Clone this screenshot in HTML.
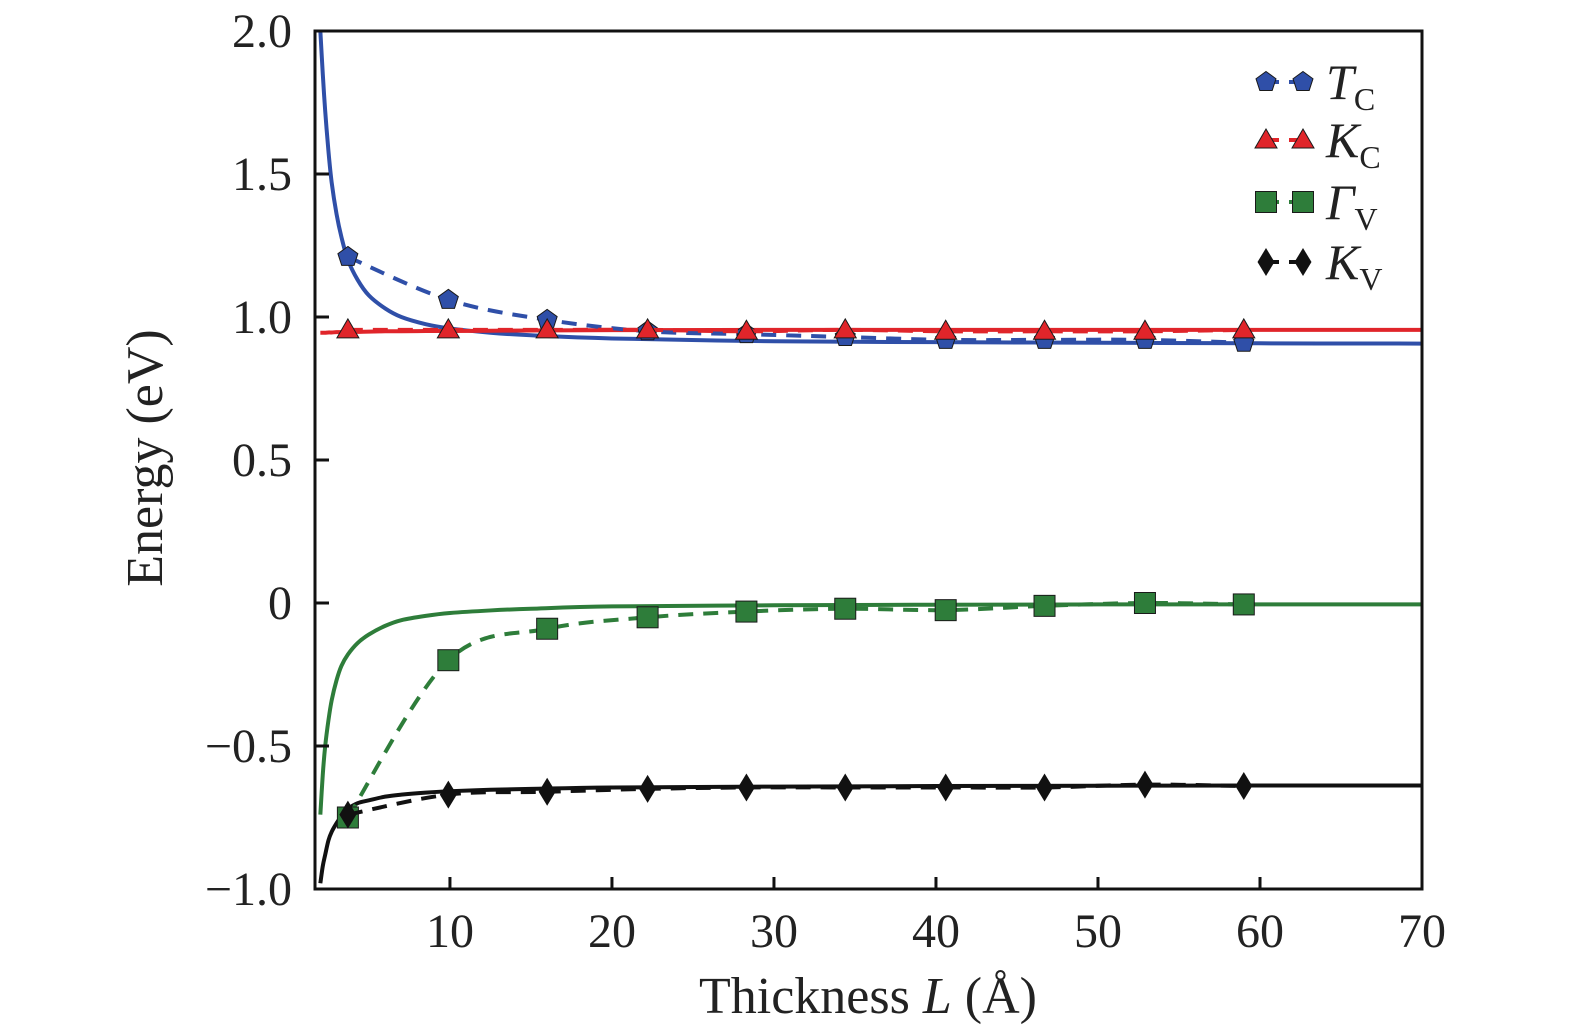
<!DOCTYPE html>
<html><head><meta charset="utf-8"><style>
html,body{margin:0;padding:0;background:#fff;}
svg{display:block;font-family:"Liberation Serif",serif;}
</style></head><body>
<svg id="chart" width="1575" height="1033" viewBox="0 0 1575 1033" xmlns="http://www.w3.org/2000/svg">
<g id="curves"></g>
<g id="series"></g>
<g id="axes"></g>
<g id="legend"></g>
</svg>
<script>
const xTicks=[10,20,30,40,50,60,70];
const yTicks=[-1.0,-0.5,0,0.5,1.0,1.5,2.0];
const yTickLabels=["\u22121.0","\u22120.5","0","0.5","1.0","1.5","2.0"];
const thickness=[3.7,9.9,16.0,22.2,28.3,34.4,40.6,46.7,52.9,59.0];
const tcValues=[1.21,1.06,0.99,0.95,0.94,0.93,0.92,0.92,0.92,0.91];
const kcValues=[0.955,0.955,0.955,0.955,0.95,0.955,0.95,0.95,0.95,0.955];
const gvValues=[-0.75,-0.2,-0.09,-0.05,-0.03,-0.02,-0.025,-0.01,0.0,-0.005];
const kvValues=[-0.74,-0.67,-0.66,-0.65,-0.645,-0.645,-0.645,-0.645,-0.635,-0.64];
const fitX=[2,2.15,2.3,2.5,2.7,3.0,3.3,3.7,4.3,5,6,7,8.5,10,12.5,15,20,30,40,50,60,70];
const tcFit=[2.0,1.85,1.72,1.58,1.47,1.36,1.28,1.2,1.13,1.075,1.03,1.0,0.975,0.96,0.945,0.936,0.925,0.915,0.912,0.91,0.908,0.907];
const kcFit=[0.945,0.945,0.945,0.946,0.946,0.947,0.947,0.948,0.948,0.949,0.95,0.95,0.951,0.951,0.952,0.953,0.954,0.955,0.955,0.955,0.955,0.955];
const gvFit=[-0.74,-0.6,-0.5,-0.41,-0.34,-0.27,-0.22,-0.18,-0.14,-0.11,-0.08,-0.06,-0.045,-0.035,-0.026,-0.02,-0.012,-0.008,-0.006,-0.005,-0.005,-0.005];
const kvFit=[-0.98,-0.92,-0.88,-0.83,-0.8,-0.77,-0.745,-0.72,-0.7,-0.69,-0.677,-0.67,-0.663,-0.658,-0.653,-0.65,-0.645,-0.642,-0.64,-0.639,-0.638,-0.638];

const L=315,R=1422,T=31,B=889,XMIN=1.67,XMAX=70,YMIN=-1,YMAX=2;
const sx=v=>L+(v-XMIN)/(XMAX-XMIN)*(R-L);
const sy=v=>B-(v-YMIN)/(YMAX-YMIN)*(B-T);
const NS="http://www.w3.org/2000/svg";
function mk(tag,attrs,parent){const e=document.createElementNS(NS,tag);for(const k in attrs)e.setAttribute(k,attrs[k]);parent.appendChild(e);return e;}
function smooth(xs,ys){
  const p=xs.map((x,i)=>[sx(x),sy(ys[i])]);let d="M"+p[0][0]+","+p[0][1];
  for(let i=0;i<p.length-1;i++){const p0=p[i-1]||p[i],p1=p[i],p2=p[i+1],p3=p[i+2]||p2;
    const c1=[p1[0]+(p2[0]-p0[0])/6,p1[1]+(p2[1]-p0[1])/6],c2=[p2[0]-(p3[0]-p1[0])/6,p2[1]-(p3[1]-p1[1])/6];
    d+=" C"+c1[0]+","+c1[1]+" "+c2[0]+","+c2[1]+" "+p2[0]+","+p2[1];}
  return d;}
const curves=document.getElementById('curves'),series=document.getElementById('series'),axes=document.getElementById('axes'),legend=document.getElementById('legend');
const defs=[
 {name:'tc',fit:tcFit,vals:tcValues,color:'#2f4fa8',marker:'pent'},
 {name:'kc',fit:kcFit,vals:kcValues,color:'#e0252a',marker:'tri'},
 {name:'gv',fit:gvFit,vals:gvValues,color:'#2e7d3a',marker:'sq'},
 {name:'kv',fit:kvFit,vals:kvValues,color:'#111111',marker:'dia'}];
function marker(type,cx,cy,color,parent){
  let e;
  if(type==='pent'){const pts=[];for(let k=0;k<5;k++){const a=-Math.PI/2+k*2*Math.PI/5;pts.push((cx+10.5*Math.cos(a))+","+(cy+10.5*Math.sin(a)));}e=mk('polygon',{points:pts.join(' '),fill:color,stroke:'#1a1a1a','stroke-width':1},parent);}
  else if(type==='tri'){e=mk('polygon',{points:`${cx},${cy-11} ${cx+11},${cy+8} ${cx-11},${cy+8}`,fill:color,stroke:'#1a1a1a','stroke-width':1},parent);}
  else if(type==='sq'){e=mk('rect',{x:cx-10.5,y:cy-10.5,width:21,height:21,fill:color,stroke:'#1a1a1a','stroke-width':1},parent);}
  else {e=mk('polygon',{points:`${cx},${cy-14} ${cx+8.5},${cy} ${cx},${cy+14} ${cx-8.5},${cy}`,fill:color},parent);}
  return e;}
const clip=mk('clipPath',{id:'pc'},document.getElementById('chart'));mk('rect',{x:L,y:T,width:R-L,height:B-T},clip);
curves.setAttribute('clip-path','url(#pc)');
defs.forEach(s=>{
  const c=mk('path',{d:smooth(fitX,s.fit),fill:'none',stroke:s.color,'stroke-width':4},curves);
  
  
  const dl=mk('path',{d:smooth(thickness,s.vals),fill:'none',stroke:s.color,'stroke-width':4,'stroke-dasharray':'15,10'},series);
  
  
  thickness.forEach((x,i)=>{const m=marker(s.marker,sx(x),sy(s.vals[i]),s.color,series);
    
    });
});
const frame=mk('rect',{x:L,y:T,width:R-L,height:B-T,fill:'none',stroke:'#111','stroke-width':3},axes);


xTicks.forEach(v=>{const x=sx(v);mk('line',{x1:x,x2:x,y1:B,y2:B-12,stroke:'#111','stroke-width':3},axes);
  const t=mk('text',{x:x,y:B+58,'text-anchor':'middle','font-size':48,fill:'#222'},axes);t.textContent=v;
  
  });
yTicks.forEach((v,i)=>{const y=sy(v);mk('line',{x1:L,x2:L+14,y1:y,y2:y,stroke:'#111','stroke-width':3},axes);
  const t=mk('text',{x:292,y:y+16,'text-anchor':'end','font-size':48,fill:'#222'},axes);t.textContent=yTickLabels[i];
  
  });
const xt=mk('text',{x:868,y:1013,'text-anchor':'middle','font-size':52,fill:'#222'},axes);
xt.innerHTML='Thickness <tspan font-style="italic">L</tspan> (Å)';


const yt=mk('text',{x:0,y:0,'text-anchor':'middle','font-size':52,fill:'#222',transform:'translate(162,458) rotate(-90)'},axes);
yt.textContent='Energy (eV)';


const leg=[['T','C',82],['K','C',140],['Γ','V',202],['K','V',262]];
defs.forEach((s,i)=>{const y=leg[i][2];
  const g=mk('g',{},legend);
  
  
  mk('line',{x1:1266,x2:1302,y1:y,y2:y,stroke:s.color,'stroke-width':4,'stroke-dasharray':'13,10'},g);
  marker(s.marker,1266,y,s.color,g);marker(s.marker,1303,y,s.color,g);
  const t=mk('text',{x:1326,y:y+17,'font-size':50,fill:'#222'},g);
  t.innerHTML='<tspan font-style="italic">'+leg[i][0]+'</tspan><tspan font-size="32" dy="11">'+leg[i][1]+'</tspan>';
});
</script>
</body></html>
